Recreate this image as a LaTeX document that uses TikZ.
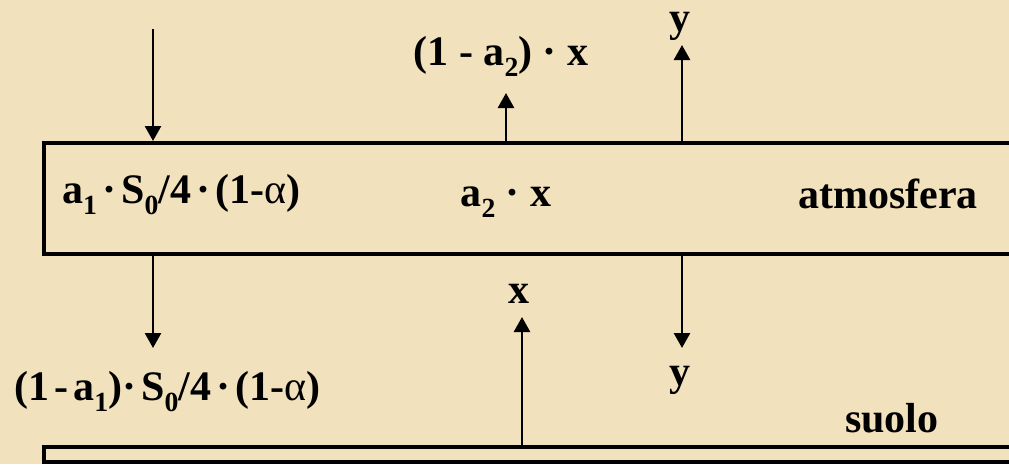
\documentclass[tikz,border=0pt]{standalone}
\usepackage{fontspec}
\usepackage{graphicx}
\setmainfont{Liberation Serif}
\usetikzlibrary{arrows.meta}
\definecolor{parch}{RGB}{241,225,188}
\newcommand\lowsub[1]{\raisebox{-0.28em}{\scalebox{0.66}{#1}}}
\newcommand\md{\textperiodcentered}
\newcommand\alf{{\mdseries α}}
\newcommand\ts{\hspace{0.12em}}
\begin{document}
\begin{tikzpicture}[x=1pt,y=-1pt,
  lbl/.style={font=\fontsize{42}{46}\selectfont\bfseries, inner sep=0pt},
  layer/.style={draw=black, line width=3.5pt, rectangle, inner sep=0pt},
  flow/.style={draw=black, line width=2.6pt, -{Triangle[length=15pt,width=16pt]}}]
\useasboundingbox (0,0) rectangle (1009,464);
\fill[parch] (0,0) rectangle (1009,464);
\begin{scope}
\clip (0,0) rectangle (1009,464);
% layers
\node[layer, minimum width=980pt, minimum height=111pt, anchor=north west] (atm) at (42,141) {};
\node[layer, minimum width=980pt, minimum height=15pt, anchor=north west] (gnd) at (42,445) {};
% coordinates
\coordinate (sun) at (153,29);
\coordinate (s1) at (153,141);
\coordinate (s2) at (153,252);
\coordinate (s2e) at (153,348);
\coordinate (r1) at (506,141);
\coordinate (r1e) at (506,93);
\coordinate (y1) at (682,141);
\coordinate (y1e) at (682,45);
\coordinate (y2) at (682,252);
\coordinate (y2e) at (682,348);
\coordinate (x1) at (522,445);
\coordinate (x1e) at (522,317);
% arrows
\draw[flow] (sun) -- (s1);
\draw[flow] (s2) -- (s2e);
\draw[flow] (r1) -- (r1e);
\draw[flow] (y1) -- (y1e);
\draw[flow] (y2) -- (y2e);
\draw[flow] (x1) -- (x1e);
% labels
\node[lbl, anchor=base] (ly1) at (680,31) {y};
\node[lbl, anchor=base] (lr) at (501,65) {(1 - a\lowsub{2}) \md{} x};
\node[lbl, anchor=base west] (la1) at (62,203) {a\lowsub{1}\ts\md\ts S\lowsub{0}/4\ts\md\ts(1-\alf)};
\node[lbl, anchor=base] (la2) at (506,206) {a\lowsub{2} \md{} x};
\node[lbl, anchor=base west] (latm) at (798,208) {atmosfera};
\node[lbl, anchor=base] (lx) at (519,303) {x};
\node[lbl, anchor=base] (ly2) at (680,385) {y};
\node[lbl, anchor=base west] (lg) at (14,400) {(1\ts-\ts a\lowsub{1})\md\ts S\lowsub{0}/4\ts\md\ts(1-\alf)};
\node[lbl, anchor=base west] (lsuolo) at (845,432) {suolo};
\end{scope}
\end{tikzpicture}
\end{document}
